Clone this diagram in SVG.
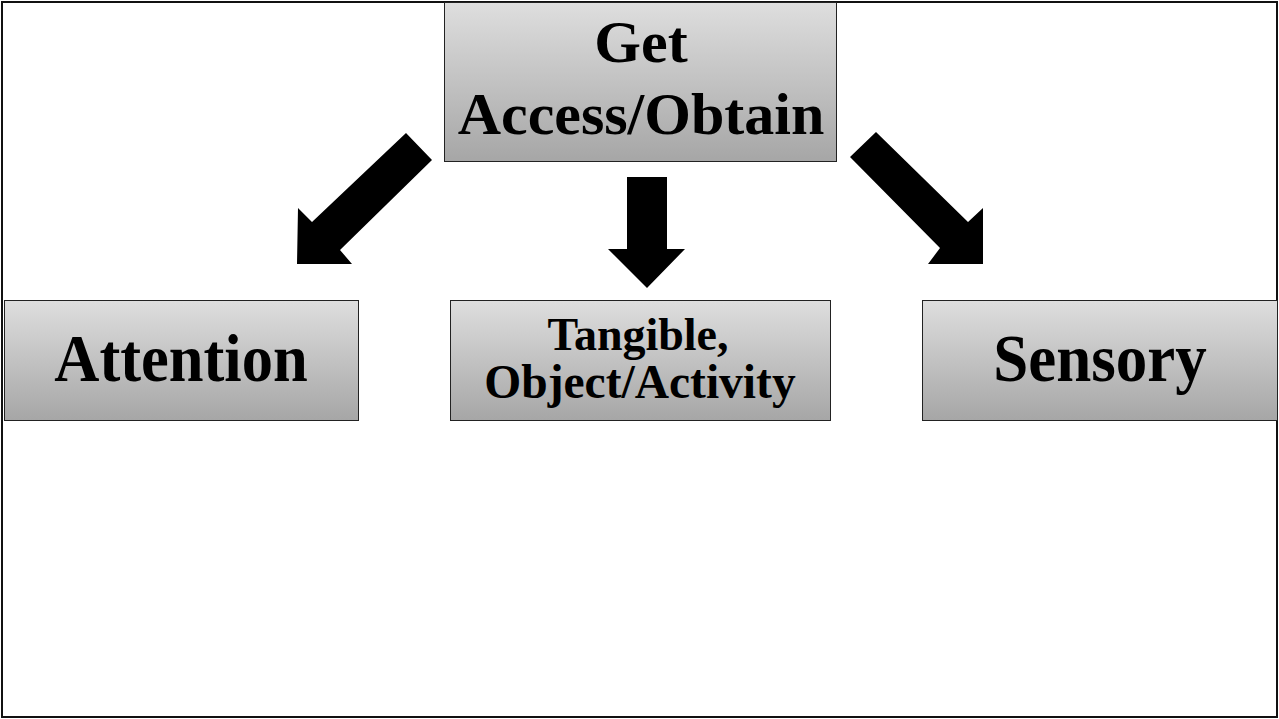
<svg xmlns="http://www.w3.org/2000/svg" width="1279" height="719" viewBox="0 0 1279 719">
  <defs>
    <linearGradient id="boxFill" x1="0" y1="0" x2="0" y2="1">
      <stop offset="0" stop-color="#dedede"/>
      <stop offset="1" stop-color="#a6a6a6"/>
    </linearGradient>
  </defs>
  <style>
    .box { fill: url(#boxFill); stroke: #222; stroke-width: 1; }
    .label { font-family: "Liberation Serif", "Times New Roman", serif; font-weight: bold; fill: #000; text-anchor: middle; }
    .arrow { fill: #000; }
  </style>

  <!-- page background and frame -->
  <rect x="0" y="0" width="1279" height="719" fill="#fff"/>
  <rect x="2" y="2" width="1275" height="715" fill="none" stroke="#111" stroke-width="2"/>

  <g id="node-get-access">
    <rect class="box" x="444.5" y="2.5" width="392" height="159"/>
    <text class="label" x="641" y="62" font-size="60">Get</text>
    <text class="label" x="641" y="134" font-size="60">Access/Obtain</text>
  </g>

  <g id="node-attention">
    <rect class="box" x="4.5" y="300.5" width="354" height="120"/>
    <text class="label" transform="translate(181 381) scale(1 1.08)" font-size="62.5">Attention</text>
  </g>

  <g id="node-tangible">
    <rect class="box" x="450.5" y="300.5" width="380" height="120"/>
    <text class="label" x="638" y="350" font-size="46">Tangible,</text>
    <text class="label" x="640" y="398" font-size="47.5">Object/Activity</text>
  </g>

  <g id="node-sensory">
    <rect class="box" x="922.5" y="300.5" width="355" height="120"/>
    <text class="label" transform="translate(1100 381) scale(1 1.08)" font-size="63">Sensory</text>
  </g>

  <g id="connectors">
    <!-- block arrow down-left -->
    <polygon class="arrow" points="406,133 432,160 340,250 352,264 297,264 298,208 312,222"/>
    <!-- block arrow straight down -->
    <polygon class="arrow" points="627,177 667,177 667,249 685,249 647,288 608,249 627,249"/>
    <!-- block arrow down-right -->
    <polygon class="arrow" points="876,132 850,157 940,248 928,264 983,264 983,208 968,222"/>
  </g>
</svg>
